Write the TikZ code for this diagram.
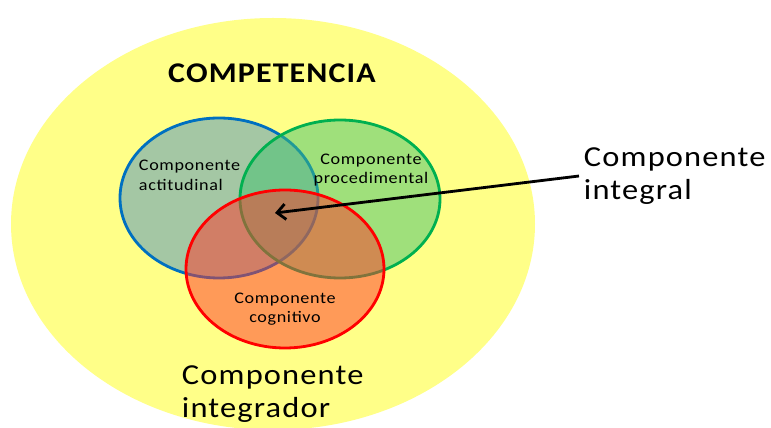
\documentclass[tikz,border=0pt]{standalone}
\usepackage{fontspec}
\setmainfont{Carlito}
\newfontfamily\widefont[FakeStretch=1.12,LetterSpace=4]{Carlito}
\usetikzlibrary{arrows.meta}

\definecolor{bgyellow}{RGB}{255,255,136}
\definecolor{edgeblue}{RGB}{0,112,192}
\definecolor{edgegreen}{RGB}{0,176,80}
\definecolor{edgered}{RGB}{255,0,0}
\definecolor{fillblue}{RGB}{75,145,192}
\definecolor{fillgreen}{RGB}{65,195,112}
\definecolor{fillred}{RGB}{255,55,42}

\tikzset{
  set/.style={line width=2pt, fill opacity=0.5},
  small/.style={font=\widefont\fontsize{11.5}{14}\selectfont, align=center},
  big/.style={font=\widefont\fontsize{20.6}{23.5}\selectfont, align=left},
}

\begin{document}
\begin{tikzpicture}[x=0.025cm,y=0.025cm]
    \useasboundingbox (0,0) rectangle (771,428);
    \coordinate (Y0) at (273,204);
    \coordinate (S1) at (219,230);
    \coordinate (S2) at (340,229);
    \coordinate (S3) at (285,159);
    \coordinate (S0) at (275,215);
      \fill [bgyellow] (Y0) ellipse [x radius=262, y radius=206];
      \draw [set, edgeblue, fill=fillblue] (S1) ellipse [x radius=99, y radius=80];
      \draw [set, edgegreen, fill=fillgreen] (S2) ellipse [x radius=100, y radius=79];
      \draw [set, edgered, fill=fillred] (S3) ellipse [x radius=99, y radius=79];
      \node (title) at (272,355) {\widefont\fontsize{20.3}{22}\selectfont\bfseries COMPETENCIA};
      \node [small, anchor=west, align=left] (actit) at (134,253) {Componente\\actitudinal};
      \node [small] (proced) at (371,258) {Componente\\procedimental};
      \node [small] (cognit) at (285,119) {Componente\\cognitivo};
      \node [big, anchor=west] (integral) at (579,252) {Componente\\integral};
      \node [big, anchor=west] (integrador) at (177,34) {Componente\\integrador};
      \draw [line width=2pt, -{Straight Barb[length=6pt,width=11pt]}] (integral.west)
        -- (S0);
  \end{tikzpicture}
\end{document}
